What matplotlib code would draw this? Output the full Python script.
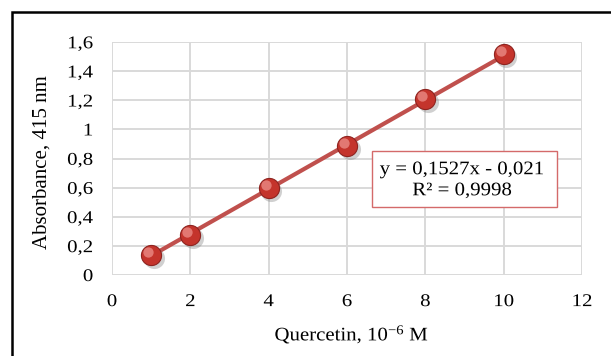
import matplotlib
matplotlib.use("Agg")
import matplotlib.pyplot as plt
from matplotlib.patches import Rectangle
from matplotlib.patheffects import AbstractPathEffect
from matplotlib.transforms import Affine2D

plt.rcParams["font.family"] = ["Liberation Serif", "DejaVu Serif"]
plt.rcParams["mathtext.fontset"] = "custom"
plt.rcParams["mathtext.rm"] = "Liberation Serif"
plt.rcParams["mathtext.it"] = "Liberation Serif:italic"

# データ
conc = [1, 2, 4, 6, 8, 10]
absorb = [0.137, 0.277, 0.598, 0.888, 1.209, 1.519]
x_ticks = [0, 2, 4, 6, 8, 10, 12]
y_ticks = [0, 0.2, 0.4, 0.6, 0.8, 1.0, 1.2, 1.4, 1.6]
y_tick_labels = ["0", "0,2", "0,4", "0,6", "0,8", "1", "1,2", "1,4", "1,6"]
slope = 0.1527
intercept = -0.021
eq_text = "y = 0,1527x - 0,021"
r2_text = "R² = 0,9998"


class Squash(AbstractPathEffect):
    """文字を縦方向に少しつぶす（元画像の縦横比に合わせる）"""

    def __init__(self, sy=0.9):
        super().__init__()
        self.sy = sy

    def draw_path(self, renderer, gc, tpath, affine, rgbFace=None):
        ext = tpath.get_extents()
        cy = (ext.y0 + ext.y1) / 2
        t = Affine2D().translate(0, -cy).scale(1, self.sy).translate(0, cy)
        renderer.draw_path(gc, tpath, t + affine, rgbFace)


W, H = 611, 356

fig = plt.figure(figsize=(W / 100, H / 100), dpi=100)
ax = fig.add_axes([112 / W, 1 - 275 / H, 470 / W, 233 / H])

# 外枠
fig.patches.append(Rectangle((11.5 / W, -0.1), 1.2, 1 - 11.5 / H + 0.1,
                             transform=fig.transFigure, fill=False,
                             edgecolor="black", linewidth=1.8))

ax.set_xlim(0, 12)
ax.set_ylim(0, 1.6)
ax.set_xticks(x_ticks)
ax.set_yticks(y_ticks)
ax.set_yticklabels(y_tick_labels)
ax.grid(True, color="#d9d9d9", linewidth=1.4)
ax.set_axisbelow(True)
for s in ax.spines.values():
    s.set_visible(False)
ax.tick_params(length=0, labelsize=15)
ax.tick_params(axis="x", pad=13)
ax.tick_params(axis="y", pad=13.5)
for lab in ax.get_xticklabels() + ax.get_yticklabels():
    lab.set_path_effects([Squash(0.86)])

# トレンドライン
xs = [min(conc), max(conc)]
ax.plot(xs, [slope * v + intercept for v in xs], color="#c0504d",
        linewidth=3, zorder=3, solid_capstyle="butt")

# マーカー（影・本体・ハイライト）
ax.scatter([v + 0.07 for v in conc], [v - 0.02 for v in absorb], s=230,
           color="#7a7a7a", alpha=0.35, zorder=4, linewidths=0)
ax.scatter(conc, absorb, s=210, color="#c4342c", edgecolors="#8e2420",
           linewidths=0.8, zorder=5)
ax.scatter([v - 0.08 for v in conc], [v + 0.02 for v in absorb], s=55,
           color="#ea8a84", alpha=0.8, zorder=6, linewidths=0)

# 回帰式のボックス
ax.add_patch(Rectangle((0.554, 0.290), 0.392, 0.242, transform=ax.transAxes,
                       facecolor="white", edgecolor="#d46a6a",
                       linewidth=1.0, zorder=7))
ax.text(0.745, 0.405, eq_text + "\n" + r2_text, transform=ax.transAxes,
        ha="center", va="center", fontsize=15, linespacing=1.15,
        zorder=8, path_effects=[Squash(0.92)])

# 軸ラベル
fig.text(352 / W, 1 - 341 / H, r"Quercetin, 10$^{-6}$ M", fontsize=15,
         ha="center", va="baseline", path_effects=[Squash(0.92)])
fig.text(42.5 / W, 1 - 162.5 / H, "Absorbance, 415 nm", fontsize=15,
         rotation=90, ha="center", va="center")

fig.savefig("out.png", dpi=100)
